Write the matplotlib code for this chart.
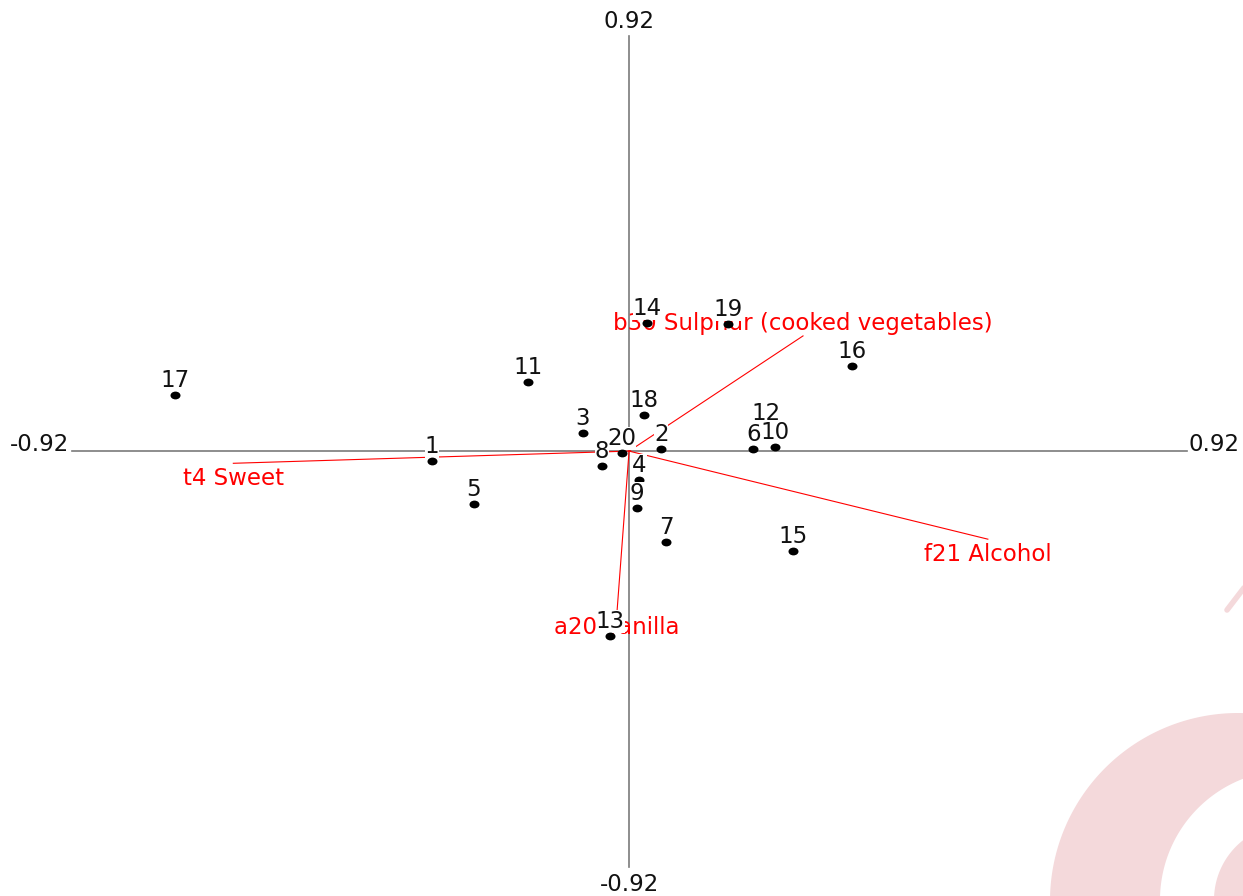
import numpy as np
import matplotlib
matplotlib.use("Agg")
from matplotlib import pyplot as plt
from matplotlib.path import Path
from matplotlib.transforms import Affine2D
from matplotlib.patches import Polygon

# sample scores (20 products)
samples = [str(i) for i in range(1, 21)]
sx = [-0.325, 0.053, -0.076, 0.017, -0.256, 0.205, 0.061, -0.045, 0.013, 0.241,
      -0.167, 0.226, -0.031, 0.030, 0.271, 0.368, -0.749, 0.025, 0.163, -0.012]
sy = [-0.022, 0.004, 0.040, -0.063, -0.117, 0.004, -0.201, -0.033, -0.126, 0.009,
      0.153, 0.051, -0.410, 0.283, -0.221, 0.188, 0.124, 0.080, 0.281, -0.004]

# attribute loadings
attributes = ["b30 Sulphur (cooked vegetables)", "t4 Sweet", "f21 Alcohol", "a20 Vanilla"]
vx = [0.287, -0.653, 0.592, -0.020]
vy = [0.255, -0.027, -0.195, -0.357]

lim = 0.92
lim_label = "0.92"

W, H = 1243, 896
fig = plt.figure(figsize=(W / 100, H / 100), dpi=100)
ax = fig.add_axes([0, 0, 1, 1])
ax.set_xlim(-1.038, 1.013)
ax.set_ylim(-0.985, 0.9987)
ax.axis("off")

fs = 16.5
plt.rcParams["font.family"] = ["DejaVu Sans"]

# faint watermark swirl in the lower right corner (pixel coords, top-left origin)
pink = "#f4d9db"


def band(c_out, r_out, c_in, r_in, t0, t1):
    t = np.radians(np.linspace(t0, t1, 120))
    outer = np.column_stack([c_out[0] + r_out * np.cos(t), c_out[1] - r_out * np.sin(t)])
    inner = np.column_stack([c_in[0] + r_in * np.cos(t[::-1]), c_in[1] - r_in * np.sin(t[::-1])])
    pts = np.vstack([outer, inner])
    return np.column_stack([pts[:, 0] / W, 1 - pts[:, 1] / H])


fig.patches.append(Polygon(band((1238, 901), 188, (1290, 900), 130, 190, 60),
                           closed=True, fc=pink, ec="none", transform=fig.transFigure, zorder=0))
fig.patches.append(Polygon(band((1290, 900), 76, (1290, 900), 35, 190, 60),
                           closed=True, fc=pink, ec="none", transform=fig.transFigure, zorder=0))
fig.lines.append(plt.Line2D([1227 / W, 1250 / W], [1 - 610 / H, 1 - 580 / H], color=pink,
                            lw=4, solid_capstyle="round", transform=fig.transFigure, zorder=0))

# axes cross
ax.plot([-lim, lim], [0, 0], color="#7a7a7a", lw=1.2, zorder=1)
ax.plot([0, 0], [-lim, lim], color="#7a7a7a", lw=1.2, zorder=1)
ax.annotate("-" + lim_label, (-lim, 0), xytext=(-2, 0), textcoords="offset pixels",
            ha="right", va="baseline", fontsize=fs, color="#111111")
ax.annotate(lim_label, (lim, 0), xytext=(2, 0), textcoords="offset pixels",
            ha="left", va="baseline", fontsize=fs, color="#111111")
ax.annotate(lim_label, (0, lim), xytext=(0, 8), textcoords="offset pixels",
            ha="center", va="baseline", fontsize=fs, color="#111111")
ax.annotate("-" + lim_label, (0, -lim), xytext=(0, -24), textcoords="offset pixels",
            ha="center", va="baseline", fontsize=fs, color="#111111")

# attribute vectors
for name, x, y in zip(attributes, vx, vy):
    ax.plot([0, x], [0, y], color="red", lw=0.8, zorder=2)
    off = 6 if y > 0 else -22
    ax.annotate(name, (x, y), xytext=(0, off), textcoords="offset pixels",
                ha="center", va="baseline", fontsize=fs, color="red", zorder=2)

# sample points: each dot sits just above its own label box, lower points drawn last
dot = Path.unit_circle().transformed(Affine2D().scale(1, 0.78))
for lab, x, y in zip(samples, sx, sy):
    z = 5 - y
    ax.annotate(lab, (x, y), xytext=(0, 8), textcoords="offset pixels",
                ha="center", va="baseline", fontsize=fs, color="#111111",
                zorder=z, bbox=dict(fc="white", ec="none", pad=0))
    ax.scatter([x], [y], marker=dot, s=52, color="black", zorder=z + 0.001, linewidths=0)

fig.savefig("out.png", dpi=100)
